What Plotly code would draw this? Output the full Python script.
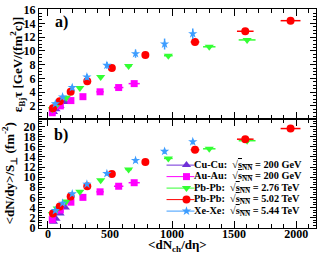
import plotly.graph_objects as go

# ---------------- data ----------------
names = ["Cu-Cu:", "Au-Au:", "Pb-Pb:", "Pb-Pb:", "Xe-Xe:"]
energies = ["200 GeV", "200 GeV", "2.76 TeV", "5.02 TeV", "5.44 TeV"]
colors = ["#7030d8", "#ff00ff", "#33ff33", "#ff0000", "#3d9dff"]
symbols = ["triangle-up", "square", "triangle-down", "circle", "star"]

cucu_x = [45, 65, 98, 140]
cucu_a = [1.1, 1.5, 2.0, 2.55]
cucu_b = [1.2, 1.8, 2.8, 4.0]
cucu_xerr = [2, 3, 4, 5]

auau_x = [695, 570, 420, 282, 185, 100, 35]
auau_a = [5.24, 4.67, 4.05, 3.34, 2.77, 2.0, 1.0]
auau_b = [8.9, 8.2, 7.1, 6.0, 5.05, 3.5, 1.6]
auau_xerr = [45, 38, 30, 20, 14, 8, 4]

pb276_x = [1605, 1300, 970, 650, 425, 257, 148, 75, 35]
pb276_a = [11.6, 10.6, 9.3, 7.8, 6.2, 4.6, 3.2, 2.2, 1.5]
pb276_b = [17.2, 15.6, 13.7, 11.5, 9.4, 7.1, 5.2, 3.8, 2.7]
pb276_xerr = [68, 50, 35, 25, 16, 10, 6, 4, 2]

pb502_x = [1955, 1590, 1185, 785, 515, 317, 183, 95, 40]
pb502_a = [14.4, 12.86, 11.3, 9.4, 7.5, 5.6, 4.05, 2.67, 1.67]
pb502_b = [19.6, 17.5, 15.4, 13.0, 10.6, 8.2, 6.15, 4.2, 2.8]
pb502_xerr = [80, 67, 35, 25, 16, 10, 6, 4, 2]

xexe_x = [1167, 940, 706, 475, 314, 196, 118, 60]
xexe_a = [12.5, 11.0, 9.6, 7.9, 6.2, 4.67, 3.3, 2.3]
xexe_b = [17.0, 15.1, 13.3, 10.7, 8.6, 6.7, 4.85, 3.4]
xexe_aerr = [0.75, 0.8, 0.6, 0.5, 0.45, 0.4, 0.35, 0.3]
xexe_berr = [0.55, 0.5, 0.45, 0.4, 0.35, 0.3, 0.25, 0.2]
xexe_xerr = [4, 3, 3, 2, 2, 2, 1, 1]

series = [
    (cucu_x, cucu_a, cucu_b, cucu_xerr, None, None),
    (auau_x, auau_a, auau_b, auau_xerr, None, None),
    (pb276_x, pb276_a, pb276_b, pb276_xerr, None, None),
    (pb502_x, pb502_a, pb502_b, pb502_xerr, None, None),
    (xexe_x, xexe_a, xexe_b, xexe_xerr, xexe_aerr, xexe_berr),
]

# ---------------- figure ----------------
fig = go.Figure()
msize = [8, 7, 8, 8, 7]

for i, (x, ya, yb, xe, yae, ybe) in enumerate(series):
    for yv, ye, xa, ya_ in ((ya, yae, "x", "y"), (yb, ybe, "x2", "y2")):
        fig.add_trace(go.Scatter(
            x=x, y=yv, mode="markers", xaxis=xa, yaxis=ya_, showlegend=False,
            marker=dict(symbol=symbols[i], color=colors[i], size=msize[i], line=dict(width=0)),
            error_x=dict(type="data", array=xe, color=colors[i], thickness=1.5, width=0),
            error_y=(dict(type="data", array=ye, color=colors[i], thickness=1.5, width=0)
                     if ye is not None else dict(visible=False)),
        ))

# manual legend (pixel-like overlay axis inside panel b)
row_y = [164, 175.7, 187.4, 199.1, 210.8]
font_fam = "Liberation Serif"
for i in range(len(names)):
    fig.add_trace(go.Scatter(
        x=[167, 195], y=[row_y[i], row_y[i]], mode="lines", xaxis="x3", yaxis="y3",
        line=dict(color=colors[i], width=1), showlegend=False, hoverinfo="skip"))
    fig.add_trace(go.Scatter(
        x=[187], y=[row_y[i]], mode="markers", xaxis="x3", yaxis="y3",
        marker=dict(symbol=symbols[i], color=colors[i], size=msize[i], line=dict(width=0)),
        showlegend=False, hoverinfo="skip"))
    fig.add_annotation(
        x=193, y=row_y[i], xref="x3", yref="y3", xanchor="left", yanchor="middle",
        showarrow=False,
        text=("<b>" + names[i] + "\u00a0\u00a0√<span style='text-decoration:overline'>s<sub>NN</sub></span>"
              + " = " + energies[i] + "</b>"),
        font=dict(family=font_fam, size=10.3, color="black"))

tickfont = dict(family=font_fam, size=12, color="black", weight="bold")
common_x = dict(range=[-72, 2160], dtick=500, tick0=0, ticks="inside", ticklen=7,
                tickcolor="black", showline=True, linecolor="black", linewidth=1,
                mirror="allticks", showgrid=False, zeroline=False, tickfont=tickfont,
                minor=dict(dtick=100, ticks="inside", ticklen=4, tickcolor="black", showgrid=False))
common_y = dict(dtick=2, tick0=0, ticks="inside", ticklen=6, tickcolor="black",
                showline=True, linecolor="black", linewidth=1, mirror="allticks",
                showgrid=False, zeroline=False, tickfont=tickfont, ticklabeloverflow="allow",
                minor=dict(dtick=0.5, ticks="inside", ticklen=3, tickcolor="black", showgrid=False))

split = 0.498
fig.update_layout(
    width=320, height=259,
    margin=dict(l=39, r=3, t=5, b=31),
    paper_bgcolor="white", plot_bgcolor="white",
    xaxis=dict(common_x, anchor="y", domain=[0, 1], showticklabels=False),
    yaxis=dict(common_y, anchor="x", domain=[split, 1], range=[0.1, 16.1]),
    xaxis2=dict(common_x, anchor="y2", domain=[0, 1], matches="x", ticklabelstandoff=-5),
    yaxis2=dict(common_y, anchor="x2", domain=[0, split], range=[-0.05, 21.5]),
    xaxis3=dict(overlaying="x2", anchor="y3", range=[39, 317], visible=False),
    yaxis3=dict(overlaying="y2", anchor="x3", range=[228, 117], visible=False),
    showlegend=False,
)

ann_font = dict(family=font_fam, size=13, color="black")
fig.add_annotation(xref="paper", yref="paper", x=-0.078, y=(1 + split) / 2,
                   xanchor="center", yanchor="middle", textangle=-90, showarrow=False,
                   text="<b>ε<sub>Bj</sub>τ [GeV/(fm<sup>2</sup>c)]</b>", font=ann_font)
fig.add_annotation(xref="paper", yref="paper", x=-0.105, y=split / 2,
                   xanchor="center", yanchor="middle", textangle=-90, showarrow=False,
                   text="<b>&lt;dN/dy&gt;/S<sub>⊥</sub> (fm<sup>-2</sup>)</b>", font=ann_font)
fig.add_annotation(xref="paper", yref="paper", x=0.5, y=-0.08,
                   xanchor="center", yanchor="middle", showarrow=False,
                   text="<b>&lt;dN<sub>ch</sub>/dη&gt;</b>", font=ann_font)
fig.add_annotation(xref="paper", yref="paper", x=0.08, y=0.94,
                   xanchor="center", yanchor="middle", showarrow=False,
                   text="<b>a)</b>", font=dict(family=font_fam, size=16, color="black"))
fig.add_annotation(xref="paper", yref="paper", x=0.08, y=0.425,
                   xanchor="center", yanchor="middle", showarrow=False,
                   text="<b>b)</b>", font=dict(family=font_fam, size=16, color="black"))

fig.write_html("out.html", config={"displayModeBar": False},
               post_script="document.body.style.margin='0';document.body.style.padding='0';"
                           "document.documentElement.style.overflow='hidden';")
